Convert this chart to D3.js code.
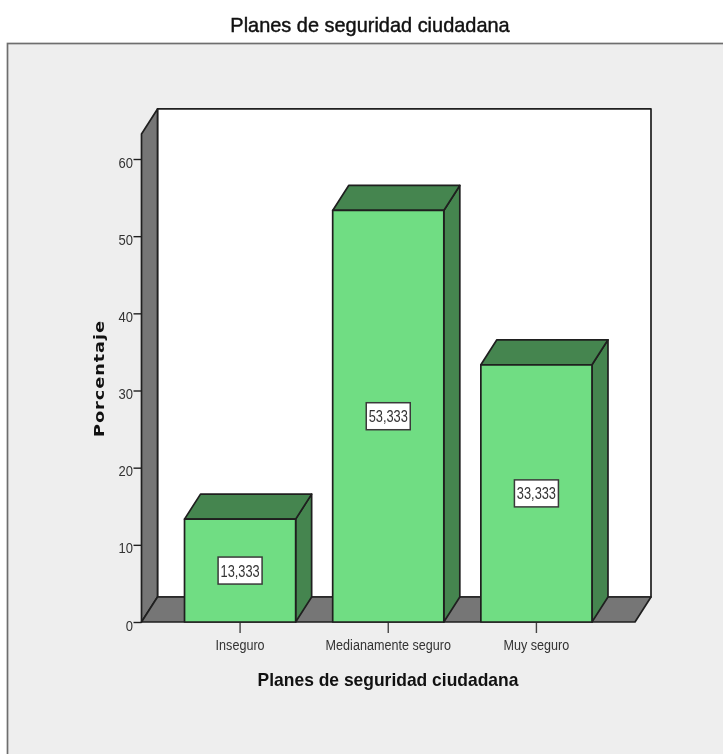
<!DOCTYPE html>
<html><head><meta charset="utf-8">
<script src="https://cdn.jsdelivr.net/npm/d3@7"></script>
<style>
html,body{margin:0;padding:0;background:#fff}
svg{display:block;filter:blur(0.5px)}
text{font-family:"Liberation Sans",Arial,sans-serif}
</style></head><body>
<svg id="c" width="723" height="754"></svg>
<script>
const categories = ["Inseguro","Medianamente seguro","Muy seguro"];
const values = [13.333,53.333,33.333];
const valueLabels = ["13,333","53,333","33,333"];
const yTicks = [0,10,20,30,40,50,60];
const chartTitle = "Planes de seguridad ciudadana";
const xTitle = "Planes de seguridad ciudadana";
const yTitle = "Porcentaje";

const DX = 16, DY = -25, line = "#1f1f1f";
const svg = d3.select("#c");
const y = d3.scaleLinear().domain([0,60]).range([622,159]);
const x = d3.scaleBand().domain(categories).range([166,610.5]).paddingInner(0.25).paddingOuter(0.125);
const left = 141.5, right = 635, topV = 63.25;
const poly = (pts,fill,sw=1.7) => svg.append("polygon").attr("points",pts.map(p=>p.join(",")).join(" "))
  .attr("fill",fill).attr("stroke",line).attr("stroke-width",sw).attr("stroke-linejoin","round");

// frame
svg.append("rect").attr("x",7.5).attr("y",43.5).attr("width",760).attr("height",760)
  .attr("fill","#eeeeee").attr("stroke","#6e6e6e").attr("stroke-width",1.7);
svg.append("text").attr("transform","translate(370,32) scale(0.95,1)").attr("text-anchor","middle")
  .attr("font-size",21).attr("fill","#111").attr("stroke","#111").attr("stroke-width",0.45).text(chartTitle);

// 3D walls
const yt = y(topV), y0 = y(0);
poly([[left+DX,yt+DY],[right+DX,yt+DY],[right+DX,y0+DY],[left+DX,y0+DY]],"#ffffff");
poly([[left,yt],[left+DX,yt+DY],[left+DX,y0+DY],[left,y0]],"#767676");
poly([[left,y0],[left+DX,y0+DY],[right+DX,y0+DY],[right,y0]],"#767676");

// y axis
const gy = svg.append("g").attr("transform",`translate(${left},0)`)
  .call(d3.axisLeft(y).tickValues(yTicks).tickSize(8).tickPadding(0).tickFormat(d3.format("d")));
gy.select(".domain").remove();
gy.selectAll("line").attr("stroke",line).attr("stroke-width",1.4);
gy.selectAll("text").attr("x",0).attr("font-size",15.5).attr("fill","#333").attr("dy","0.42em")
  .attr("transform","translate(-8.5,1.5) scale(0.84,1)");

// x axis
const gx = svg.append("g").attr("transform",`translate(0,${y0})`)
  .call(d3.axisBottom(x).tickSize(11).tickPadding(6));
gx.select(".domain").remove();
gx.selectAll("line").attr("stroke","#444").attr("stroke-width",1.4);
gx.selectAll("text").attr("font-size",15).attr("fill","#333").attr("transform","scale(0.84,1)");

// bars
const bw = x.bandwidth();
categories.forEach((c,i)=>{
  const x0 = x(c), x1 = x0+bw, yv = y(values[i]);
  poly([[x1,yv],[x1+DX,yv+DY],[x1+DX,y0+DY],[x1,y0]],"#45854f");
  poly([[x0,yv],[x0+DX,yv+DY],[x1+DX,yv+DY],[x1,yv]],"#45854f");
  poly([[x0,yv],[x1,yv],[x1,y0],[x0,y0]],"#70dd83");
  const cx = x0+bw/2, cy = (yv+y0)/2;
  svg.append("rect").attr("x",cx-22).attr("y",cy-13.5).attr("width",44).attr("height",27)
    .attr("fill","#fff").attr("stroke","#3a3a3a").attr("stroke-width",1.5);
  svg.append("text").attr("transform",`translate(${cx},${cy+6}) scale(0.8,1)`).attr("text-anchor","middle")
    .attr("font-size",16).attr("fill","#333").text(valueLabels[i]);
});

// titles
svg.append("text").attr("transform","translate(388,686) scale(0.97,1)").attr("text-anchor","middle")
  .attr("font-size",18).attr("font-weight","bold").attr("fill","#111").text(xTitle);
svg.append("text").attr("transform","translate(104,378.5) rotate(-90) scale(1.22,1)").attr("text-anchor","middle")
  .style("font-family",'"DejaVu Sans",sans-serif')
  .attr("font-size",14.5).attr("font-weight","bold").attr("letter-spacing",0.8).attr("fill","#111").text(yTitle);
</script></body></html>
